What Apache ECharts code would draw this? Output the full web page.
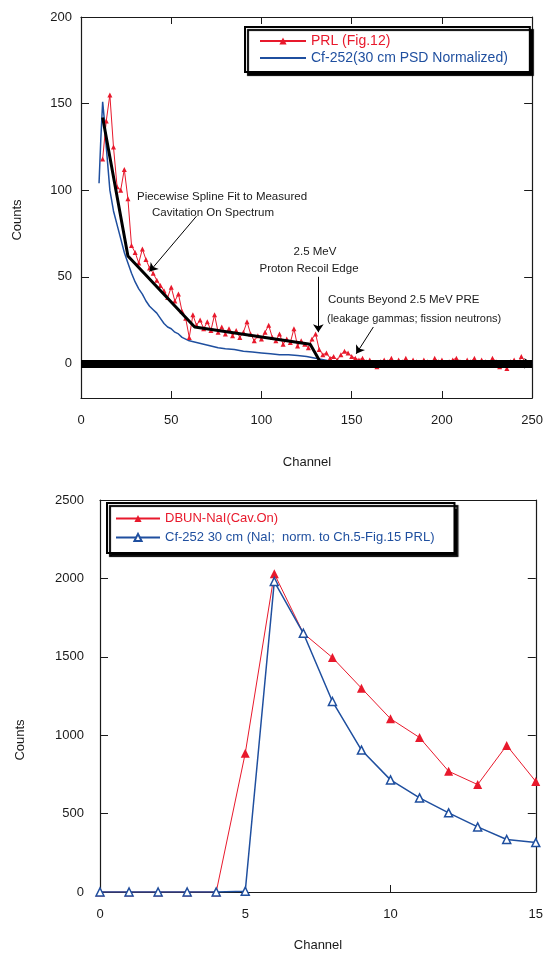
<!DOCTYPE html>
<html><head><meta charset="utf-8">
<script src="https://cdn.jsdelivr.net/npm/echarts@6/dist/echarts.min.js"></script>
<style>html,body{margin:0;padding:0;background:#fff}#c{width:546px;height:958px}</style>
</head><body><div id="c"></div>
<script>
// ---------- Top chart data ----------
const prlChannel = [12,14,16,18,20,22,24,26,28,30,
  32,34,36,38,40,42,44,46,48,50,
  52,54,56,58,60,62,64,66,68,70,
  72,74,76,78,80,82,84,86,88,90,
  92,94,96,98,100,102,104,106,108,110,
  112,114,116,118,120,122,124,126,128,130,
  132,134,136,138,140,142,144,146,148,150,
  152,154,156,158,160,162,164,166,168,170,
  172,174,176,178,180,182,184,186,188,190,
  192,194,196,198,200,202,204,206,208,210,
  212,214,216,218,220,222,224,226,228,230,
  232,234,236,238,240,242,244,246];
const prlCounts = [118,140,155,125,102,100,112,95,68,64,
  58,66,60,55,52,48,45,42,38,44,
  36,40,30,26,15,28,22,25,20,24,
  19,28,18,21,17,20,16,19,15,18,
  24,17,13,16,14,18,22,15,13,17,
  11,14,12,20,10,13,11,9,14,17,
  8,5,6,3,4,2,5,7,6,4,
  3,2,3,1,2,0,-2,1,2,1,
  3,0,2,1,3,0,2,1,0,2,
  1,0,3,1,2,0,1,2,3,1,
  0,2,1,3,0,2,1,0,3,1,
  -2,0,-3,1,2,-1,4,1];
const cfChannel = [10,11,12,13,14,16,18,20,22,24,26,28,30,32,34,36,38,40,42,44,46,48,50,52,54,56,58,60,
  64,68,72,76,80,85,90,95,100,105,110,115,120,125,130,135,140,145,150,160,170,180,190,200,210,220,230,240,250];
const cfCounts = [104,130,151,140,125,100,88,80,72,64,58,52,47,43,40,36,33,31,29,26,23,21,20,18,17,15,14,13,
  12,11,10,9,8.5,8,7,6.5,6,5.5,5,5,4.5,4,3,2,1,0.5,0,0,0,0,0,0,0,0,0,0,0];
const fitChannel = [12,26,63,127,133];
const fitCounts = [142,62,21,11,0];
const topYTicks = [0,50,100,150,200];

// ---------- Bottom chart data ----------
const naiChannel = [0,1,2,3,4,5,6,7,8,9,10,11,12,13,14,15];
const dbunCounts = [0,0,0,0,0,885,2030,1650,1495,1300,1105,985,770,685,935,705];
const cfNaiCounts = [0,0,0,0,0,5,1980,1650,1215,905,715,600,505,415,335,315];

const zip = (a,b) => a.map((v,i) => [v, b[i]]);

const FONT = '"Liberation Sans", Arial, sans-serif';
const RED = '#e8192c';
const BLUE = '#1f4f9f';
const INK = '#1a1a1a';

const axisLineS = {show:true, onZero:false, lineStyle:{color:INK, width:1.2}};
const lbl = {fontSize:13, color:INK, fontFamily:FONT, formatter: v => String(v)};

const chart = echarts.init(document.getElementById('c'), null, {renderer:'canvas'});
chart.setOption({
  animation:false,
  backgroundColor:'#fff',
  grid:[
    {left:81, top:17, width:452, height:381},
    {left:100, top:500, width:437, height:392}
  ],
  xAxis:[
    {gridIndex:0, type:'value', min:0, max:250, interval:50, position:'bottom',
     axisLine:axisLineS, axisTick:{inside:true, length:7, lineStyle:{color:INK}},
     axisLabel:Object.assign({margin:16}, lbl), splitLine:{show:false}},
    {gridIndex:0, type:'value', min:0, max:250, interval:50, position:'top',
     axisLine:axisLineS, axisTick:{inside:true, length:7, lineStyle:{color:INK}},
     axisLabel:{show:false}, splitLine:{show:false}},
    {gridIndex:1, type:'value', min:0, max:15, interval:5, position:'bottom',
     axisLine:axisLineS, axisTick:{inside:true, length:7, lineStyle:{color:INK}},
     axisLabel:Object.assign({margin:16}, lbl), splitLine:{show:false}},
    {gridIndex:1, type:'value', min:0, max:15, interval:5, position:'top',
     axisLine:axisLineS, axisTick:{show:false},
     axisLabel:{show:false}, splitLine:{show:false}}
  ],
  yAxis:[
    {gridIndex:0, type:'value', min:-20, max:200, position:'left',
     axisLine:axisLineS, axisTick:{inside:true, length:8, lineStyle:{color:INK}, customValues:topYTicks},
     axisLabel:Object.assign({margin:9, customValues:topYTicks}, lbl), splitLine:{show:false}},
    {gridIndex:0, type:'value', min:-20, max:200, position:'right',
     axisLine:axisLineS, axisTick:{inside:true, length:8, lineStyle:{color:INK}, customValues:topYTicks},
     axisLabel:{show:false}, splitLine:{show:false}},
    {gridIndex:1, type:'value', min:0, max:2500, interval:500, position:'left',
     axisLine:axisLineS, axisTick:{inside:true, length:8, lineStyle:{color:INK}},
     axisLabel:Object.assign({margin:16}, lbl), splitLine:{show:false}},
    {gridIndex:1, type:'value', min:0, max:2500, interval:500, position:'right',
     axisLine:axisLineS, axisTick:{inside:true, length:8, lineStyle:{color:INK}},
     axisLabel:{show:false}, splitLine:{show:false}}
  ],
  legend:[
    {left:245, top:27, orient:'vertical', itemWidth:46, itemHeight:9, itemGap:3,
     padding:[7,22,7,14], borderColor:'#000', borderWidth:2, backgroundColor:'#fff',
     shadowColor:'#000', shadowOffsetX:3, shadowOffsetY:3, shadowBlur:1,
     textStyle:{fontSize:14, fontFamily:FONT}, selectedMode:false,
     data:[{name:'PRL (Fig.12)', textStyle:{color:RED}},
           {name:'Cf-252(30 cm PSD Normalized)', textStyle:{color:BLUE}, itemStyle:{opacity:0}}]},
    {left:107, top:503, orient:'vertical', itemWidth:44, itemHeight:9, itemGap:6,
     padding:[9,20,9,8], borderColor:'#000', borderWidth:2, backgroundColor:'#fff',
     shadowColor:'#000', shadowOffsetX:3, shadowOffsetY:3, shadowBlur:1,
     textStyle:{fontSize:13, fontFamily:FONT}, selectedMode:false,
     data:[{name:'DBUN-NaI(Cav.On)', textStyle:{color:RED}},
           {name:'Cf-252 30 cm (NaI;  norm. to Ch.5-Fig.15 PRL)', textStyle:{color:BLUE}}]}
  ],
  series:[
    {name:'Cf-252(30 cm PSD Normalized)', type:'line', xAxisIndex:0, yAxisIndex:0,
     data:zip(cfChannel, cfCounts), symbol:'none', z:2,
     lineStyle:{color:BLUE, width:1.5}, itemStyle:{color:BLUE}},
    {name:'PRL (Fig.12)', type:'line', xAxisIndex:0, yAxisIndex:0,
     data:zip(prlChannel, prlCounts), symbol:'triangle', symbolSize:5, z:3,
     lineStyle:{color:RED, width:1}, itemStyle:{color:RED}},
    {name:'fit', type:'line', xAxisIndex:0, yAxisIndex:0,
     data:zip(fitChannel, fitCounts), symbol:'none', z:4,
     lineStyle:{color:'#000', width:3},
     markLine:{silent:true, symbol:['none','arrow'], symbolSize:8, label:{show:false},
       lineStyle:{color:'#000', width:1, type:'solid'},
       data:[
         {yAxis:0, symbol:'none', lineStyle:{color:'#000', width:8, type:'solid'}},
         [{coord:[64,85]},{coord:[38,53]}],
         [{coord:[131.5,50]},{coord:[131.5,18]}],
         [{coord:[162,21]},{coord:[152.5,5.5]}]
       ]}},
    {name:'DBUN-NaI(Cav.On)', type:'line', xAxisIndex:2, yAxisIndex:2,
     data:zip(naiChannel, dbunCounts), symbol:'triangle', symbolSize:9, z:3,
     lineStyle:{color:RED, width:1}, itemStyle:{color:RED}},
    {name:'Cf-252 30 cm (NaI;  norm. to Ch.5-Fig.15 PRL)', type:'line', xAxisIndex:2, yAxisIndex:2,
     data:zip(naiChannel, cfNaiCounts), symbol:'triangle', symbolSize:8, z:4,
     lineStyle:{color:BLUE, width:1.5}, itemStyle:{color:'#fff', borderColor:BLUE, borderWidth:1.5}}
  ],
  graphic:[
    {type:'text', x:17, y:220, rotation:Math.PI/2, style:{text:'Counts', fontSize:13, fontFamily:FONT, fill:INK, align:'center', verticalAlign:'middle'}},
    {type:'text', x:307, y:462, style:{text:'Channel', fontSize:13, fontFamily:FONT, fill:INK, align:'center', verticalAlign:'middle'}},
    {type:'text', x:20, y:740, rotation:Math.PI/2, style:{text:'Counts', fontSize:13, fontFamily:FONT, fill:INK, align:'center', verticalAlign:'middle'}},
    {type:'text', x:318, y:945, style:{text:'Channel', fontSize:13, fontFamily:FONT, fill:INK, align:'center', verticalAlign:'middle'}},
    {type:'text', x:137, y:197, style:{text:'Piecewise Spline Fit to Measured', fontSize:11.5, fontFamily:FONT, fill:INK, align:'left', verticalAlign:'middle'}},
    {type:'text', x:152, y:213, style:{text:'Cavitation On Spectrum', fontSize:11.5, fontFamily:FONT, fill:INK, align:'left', verticalAlign:'middle'}},
    {type:'text', x:315, y:252, style:{text:'2.5 MeV', fontSize:11.5, fontFamily:FONT, fill:INK, align:'center', verticalAlign:'middle'}},
    {type:'text', x:309, y:269, style:{text:'Proton Recoil Edge', fontSize:11.5, fontFamily:FONT, fill:INK, align:'center', verticalAlign:'middle'}},
    {type:'text', x:328, y:300, style:{text:'Counts Beyond 2.5 MeV PRE', fontSize:11.5, fontFamily:FONT, fill:INK, align:'left', verticalAlign:'middle'}},
    {type:'text', x:327, y:319, style:{text:'(leakage gammas; fission neutrons)', fontSize:11, fontFamily:FONT, fill:INK, align:'left', verticalAlign:'middle'}}
  ]
});
</script></body></html>
